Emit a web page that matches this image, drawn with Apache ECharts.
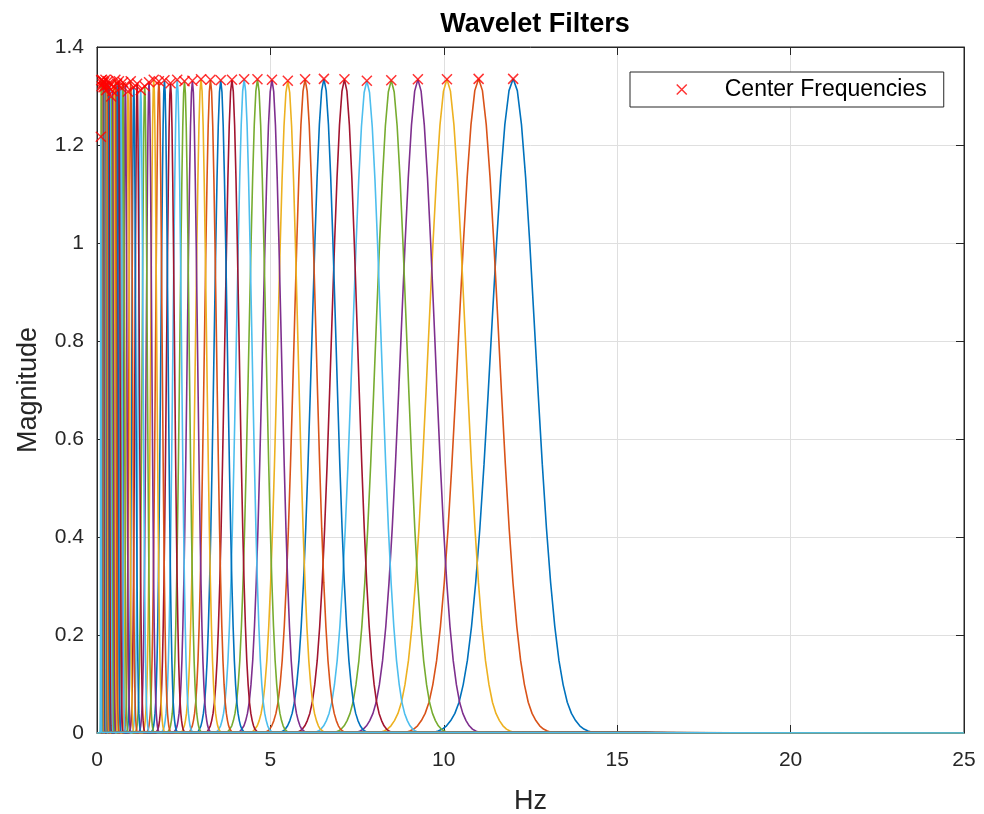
<!DOCTYPE html>
<html>
<head>
<meta charset="utf-8">
<script src="https://cdn.jsdelivr.net/npm/echarts@6/dist/echarts.min.js"></script>
<style>
html,body{margin:0;padding:0;background:#fff;}
#chart{width:984px;height:814px;}
</style>
</head>
<body>
<div id="chart"></div>
<script>
// MATLAB default line colour order
const lineColors = ['#0072BD', '#D95319', '#EDB120', '#7E2F8E', '#77AC30', '#4DBEEE', '#A2142F'];

// Filter centre frequencies (Hz), highest first
const centerFreqs = [
  12.000, 11.004, 10.091, 9.253, 8.485, 7.781, 7.135, 6.543, 6.000, 5.502,
  5.045, 4.627, 4.243, 3.891, 3.568, 3.272, 3.000, 2.751, 2.523, 2.313,
  2.121, 1.945, 1.784, 1.636, 1.500, 1.376, 1.261, 1.157, 1.061, 0.973,
  0.892, 0.818, 0.750, 0.688, 0.631, 0.578, 0.530, 0.486, 0.446, 0.409,
  0.375, 0.344, 0.315, 0.289, 0.265, 0.243, 0.223, 0.204, 0.1875, 0.172,
  0.158, 0.145, 0.133, 0.122, 0.1115
];

// Magnitude at each centre frequency (marker heights)
const peakMags = [
  1.335, 1.335, 1.334, 1.334, 1.332, 1.331, 1.334, 1.335, 1.334, 1.331,
  1.333, 1.334, 1.334, 1.333, 1.332, 1.333, 1.334, 1.331, 1.330, 1.333,
  1.326, 1.332, 1.330, 1.333, 1.328, 1.320, 1.312, 1.325, 1.318, 1.330,
  1.309, 1.322, 1.328, 1.318, 1.330, 1.325, 1.333, 1.320, 1.310, 1.299,
  1.325, 1.318, 1.330, 1.322, 1.312, 1.333, 1.320, 1.328, 1.318, 1.330,
  1.325, 1.333, 1.320, 1.332, 1.217
];

// Filter shape read off the 12 Hz filter: relative offset (f - fc)/fc and
// magnitude as a fraction of the peak
const shapeOffsets = [
  -0.20, -0.19, -0.18, -0.17, -0.16, -0.15, -0.14, -0.13, -0.12, -0.11,
  -0.10, -0.09, -0.08, -0.07, -0.06, -0.05, -0.04, -0.03, -0.02, -0.01,
  0.00,
  0.01, 0.02, 0.03, 0.04, 0.05, 0.06, 0.07, 0.08, 0.09, 0.10,
  0.11, 0.12, 0.13, 0.14, 0.15, 0.16, 0.17, 0.18, 0.19, 0.20
];
const shapeLevels = [
  0.000, 0.0012, 0.003, 0.006, 0.011, 0.019, 0.030, 0.047, 0.074, 0.111,
  0.163, 0.230, 0.313, 0.411, 0.520, 0.635, 0.748, 0.849, 0.930, 0.982,
  1.000,
  0.982, 0.930, 0.849, 0.748, 0.635, 0.520, 0.411, 0.313, 0.230, 0.163,
  0.111, 0.074, 0.047, 0.030, 0.019, 0.011, 0.006, 0.003, 0.0012, 0.000
];

// Frequency range covered by every filter's response
const freqRange = [0, 25];

const xTicks = [0, 5, 10, 15, 20, 25];
const yTicks = [0, 0.2, 0.4, 0.6, 0.8, 1.0, 1.2, 1.4];

const markerName = 'Center Frequencies';
const crossPath = 'path://M0,0L10,10M10,0L0,10';

const series = [];
centerFreqs.forEach(function (fc, k) {
  const pts = [[freqRange[0], 0]];
  for (let i = 0; i < shapeOffsets.length; i++) {
    pts.push([fc * (1 + shapeOffsets[i]), peakMags[k] * shapeLevels[i]]);
  }
  pts.push([freqRange[1], 0]);
  series.push({
    type: 'line',
    name: 'filter' + k,
    data: pts,
    showSymbol: false,
    symbol: 'none',
    smooth: false,
    silent: true,
    lineStyle: { width: 1.6, color: lineColors[k % lineColors.length] },
    itemStyle: { color: lineColors[k % lineColors.length] },
    z: 2,
    animation: false
  });
});

series.push({
  type: 'scatter',
  name: markerName,
  data: centerFreqs.map(function (f, k) { return [f, peakMags[k]]; }),
  symbol: crossPath,
  symbolSize: 10,
  itemStyle: { color: 'rgba(0,0,0,0)', borderColor: '#FF0000', borderWidth: 1.5 },
  z: 10,
  animation: false
});

const tickColor = '#262626';
const fontFam = '"Liberation Sans", Arial, Helvetica, sans-serif';

const chart = echarts.init(document.getElementById('chart'), null, { renderer: 'canvas' });
chart.setOption({
  backgroundColor: '#ffffff',
  animation: false,
  title: {
    text: 'Wavelet Filters',
    left: 530,
    top: 6,
    textAlign: 'center',
    textStyle: { fontFamily: fontFam, fontSize: 27, fontWeight: 'bold', color: '#000000' }
  },
  legend: {
    data: [{ name: markerName, icon: crossPath }],
    left: 630,
    top: 72,
    orient: 'vertical',
    padding: [6, 17, 6, 46],
    itemWidth: 10,
    itemHeight: 10,
    itemStyle: { color: 'rgba(0,0,0,0)', borderColor: '#FF0000', borderWidth: 1.5 },
    borderColor: '#262626',
    borderWidth: 1,
    backgroundColor: '#ffffff',
    selectedMode: false,
    textStyle: { fontFamily: fontFam, fontSize: 23, color: '#000000', padding: [0, 0, 0, 33], lineHeight: 23 }
  },
  grid: {
    left: 97, right: 20, top: 47, bottom: 81,
    containLabel: false,
    outerBoundsMode: 'none',
    show: true, borderColor: tickColor, borderWidth: 1, backgroundColor: '#ffffff'
  },
  xAxis: [{
    type: 'value',
    min: xTicks[0], max: xTicks[xTicks.length - 1], interval: 5,
    name: 'Hz', nameLocation: 'middle', nameGap: 55,
    nameTextStyle: { fontFamily: fontFam, fontSize: 27, color: tickColor },
    axisLine: { show: true, onZero: false, lineStyle: { color: tickColor, width: 1 } },
    axisTick: { show: true, inside: true, length: 8, lineStyle: { color: tickColor } },
    axisLabel: { fontFamily: fontFam, fontSize: 21, color: tickColor, margin: 17 },
    splitLine: { show: true, lineStyle: { color: '#dfdfdf', width: 1 } }
  }, {
    type: 'value', position: 'top',
    min: xTicks[0], max: xTicks[xTicks.length - 1], interval: 5,
    axisLine: { show: true, onZero: false, lineStyle: { color: tickColor } },
    axisTick: { show: true, inside: true, length: 8, lineStyle: { color: tickColor } },
    axisLabel: { show: false },
    splitLine: { show: false }
  }],
  yAxis: [{
    type: 'value',
    min: yTicks[0], max: yTicks[yTicks.length - 1], interval: 0.2,
    name: 'Magnitude', nameLocation: 'middle', nameGap: 55,
    nameTextStyle: { fontFamily: fontFam, fontSize: 27, color: tickColor },
    axisLine: { show: true, onZero: false, lineStyle: { color: tickColor, width: 1 } },
    axisTick: { show: true, inside: true, length: 8, lineStyle: { color: tickColor } },
    axisLabel: { fontFamily: fontFam, fontSize: 21, color: tickColor, margin: 13 },
    splitLine: { show: true, lineStyle: { color: '#dfdfdf', width: 1 } }
  }, {
    type: 'value', position: 'right',
    min: yTicks[0], max: yTicks[yTicks.length - 1], interval: 0.2,
    axisLine: { show: true, onZero: false, lineStyle: { color: tickColor } },
    axisTick: { show: true, inside: true, length: 8, lineStyle: { color: tickColor } },
    axisLabel: { show: false },
    splitLine: { show: false }
  }],
  series: series
});
</script>
</body>
</html>
